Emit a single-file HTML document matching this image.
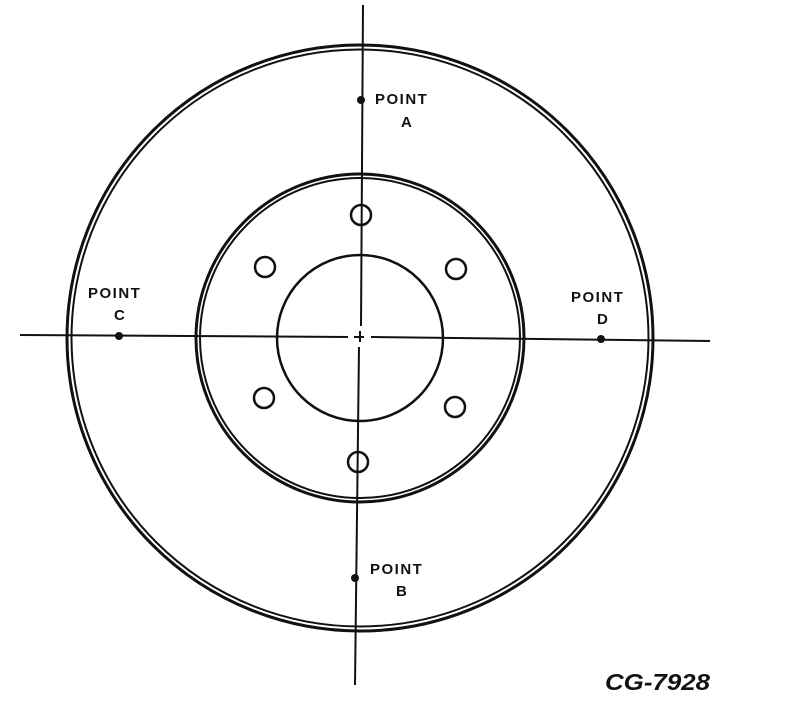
<!DOCTYPE html>
<html><head><meta charset="utf-8"><style>
html,body{margin:0;padding:0;background:#fff;width:800px;height:726px;overflow:hidden}
text{font-family:"Liberation Sans",sans-serif;font-weight:bold;fill:#111}
</style></head><body>
<svg width="800" height="726" viewBox="0 0 800 726" xmlns="http://www.w3.org/2000/svg">
<g fill="none" stroke="#111">
<circle cx="360" cy="338" r="293" stroke-width="3"/>
<circle cx="360" cy="338" r="288.5" stroke-width="2"/>
<circle cx="360" cy="338" r="164" stroke-width="3"/>
<circle cx="360" cy="338" r="160" stroke-width="2"/>
<circle cx="360" cy="338" r="83" stroke-width="2.5"/>
<circle cx="361" cy="215" r="10" stroke-width="2.5"/>
<circle cx="456" cy="269" r="10" stroke-width="2.5"/>
<circle cx="455" cy="407" r="10" stroke-width="2.5"/>
<circle cx="358" cy="462" r="10" stroke-width="2.5"/>
<circle cx="264" cy="398" r="10" stroke-width="2.5"/>
<circle cx="265" cy="267" r="10" stroke-width="2.5"/>
<path d="M363 5 L361 326 M360 331 L360 342 M359 347 L355 685" stroke-width="2"/>
<path d="M20 335 L348 337 M354 337 L364 337 M371 337 L710 341" stroke-width="2"/>
</g>
<g fill="#111">
<circle cx="361" cy="100" r="4"/>
<circle cx="355" cy="578" r="4"/>
<circle cx="119" cy="336" r="4"/>
<circle cx="601" cy="339" r="4"/>
</g>
<g font-size="15" letter-spacing="1.5">
<text x="375" y="104">POINT</text>
<text x="401" y="127">A</text>
<text x="370" y="574">POINT</text>
<text x="396" y="596">B</text>
<text x="88" y="298">POINT</text>
<text x="114" y="320">C</text>
<text x="571" y="302">POINT</text>
<text x="597" y="324">D</text>
</g>
<text x="605" y="690" font-size="23" font-style="italic" textLength="105" lengthAdjust="spacingAndGlyphs">CG-7928</text>
</svg>
</body></html>
